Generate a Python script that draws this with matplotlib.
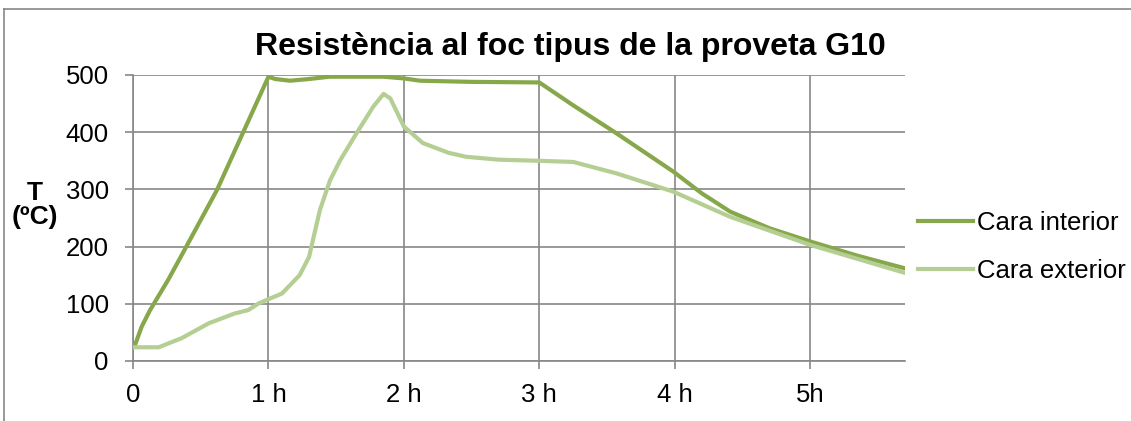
import matplotlib
matplotlib.use("Agg")
import matplotlib.pyplot as plt
from matplotlib.lines import Line2D

plt.rcParams['font.family'] = ['Liberation Sans', 'DejaVu Sans']

title = "Resistència al foc tipus de la proveta G10"
ylabel = "T\n(ºC)"
series_names = ["Cara interior", "Cara exterior"]

interior_t = [0, 0.015, 0.064, 0.126, 0.26, 0.38, 0.62, 0.81, 1.0, 1.05, 1.16, 1.3, 1.45, 1.85, 2.0, 2.12,
              2.5, 3.0, 3.25, 3.57, 3.99, 4.2, 4.41, 4.7, 5.0, 5.35, 5.7]
interior_T = [25, 28, 60, 89, 142, 194, 299, 398, 497, 493, 490, 493, 497, 497, 494, 490,
              488, 487, 447, 398, 331, 293, 261, 232, 209, 184, 162]

exterior_t = [0, 0.19, 0.36, 0.56, 0.75, 0.85, 0.93, 0.99, 1.1, 1.23, 1.3, 1.34, 1.38, 1.455, 1.53, 1.65,
              1.775, 1.85, 1.9, 2.0, 2.14, 2.33, 2.46, 2.7, 3.0, 3.25, 3.57, 3.99, 4.41, 5.0, 5.7]
exterior_T = [24, 24, 40, 66, 83, 89, 101, 107, 118, 150, 182, 223, 264, 316, 351, 398,
              445, 467, 459, 410, 381, 364, 357, 352, 350, 348, 328, 296, 252, 203, 154]

xticks = [0, 1, 2, 3, 4, 5]
xticklabels = ["0", "1 h", "2 h", "3 h", "4 h", "5h"]
yticks = [0, 100, 200, 300, 400, 500]

c_int = "#86A84A"
c_ext = "#B5CE93"
grid_c = "#878787"

fig = plt.figure(figsize=(11.31, 4.21), dpi=100)
ax = fig.add_axes([133/1131, 60/421, (905-133)/1131, (361-75)/421])

ax.plot(interior_t, interior_T, color=c_int, lw=3, solid_capstyle='round', solid_joinstyle='round', zorder=3)
ax.plot(exterior_t, exterior_T, color=c_ext, lw=3, solid_capstyle='round', solid_joinstyle='round', zorder=3)

ax.set_xlim(0, 5.7)
ax.set_ylim(0, 500)
ax.set_xticks(xticks)
ax.set_xticklabels(xticklabels)
ax.set_yticks(yticks)
ax.grid(True, color=grid_c, lw=1.2)
ax.set_axisbelow(True)
for s in ['top', 'right']:
    ax.spines[s].set_visible(False)
for s in ['left', 'bottom']:
    ax.spines[s].set_color(grid_c)
    ax.spines[s].set_linewidth(1.2)
ax.tick_params(axis='both', direction='out', length=6, width=1.2, color=grid_c, labelsize=18.5)
ax.tick_params(axis='y', pad=11.5)
ax.tick_params(axis='x', pad=10)

fig.text(570/1131, 1 - 47/421, title, ha='center', va='center', fontsize=23, fontweight='bold')
fig.text(35/1131, 1 - 205/421, ylabel, ha='center', va='center', fontsize=19, fontweight='bold', linespacing=1.0)

# legend
handles = [Line2D([0], [0], color=c_int, lw=3), Line2D([0], [0], color=c_ext, lw=3)]
fig.legend(handles, series_names, loc='center left', bbox_to_anchor=(918/1131, 1 - 247/421),
           frameon=False, fontsize=18.5, handlelength=2.14, handletextpad=0.15, labelspacing=0.9,
           borderaxespad=0, borderpad=0)

# outer chart border
fig.add_artist(Line2D([4/1131, 4/1131], [0, 1 - 9/421], transform=fig.transFigure, color=grid_c, lw=1.2))
fig.add_artist(Line2D([4/1131, 1], [1 - 9/421, 1 - 9/421], transform=fig.transFigure, color=grid_c, lw=1.2))

fig.savefig("out.png", dpi=100)
